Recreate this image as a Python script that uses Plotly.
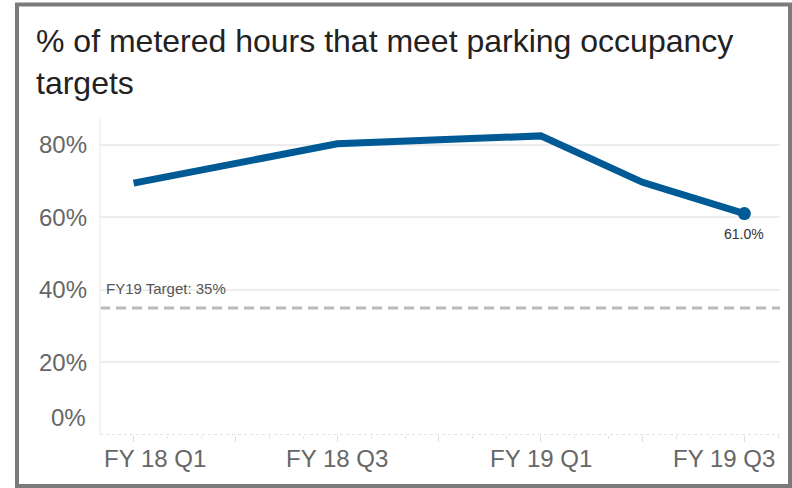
import plotly.graph_objects as go

quarters = ["FY 18 Q1", "FY 18 Q2", "FY 18 Q3", "FY 18 Q4", "FY 19 Q1", "FY 19 Q2", "FY 19 Q3"]
occupancy_pct = [69.4, 74.8, 80.2, 81.3, 82.4, 69.6, 61.0]
y_ticks = [0, 20, 40, 60, 80]
labelled_quarters = ["FY 18 Q1", "FY 18 Q3", "FY 19 Q1", "FY 19 Q3"]
target_pct = 35
target_label = "FY19 Target: 35%"
title_text = "% of metered hours that meet parking occupancy<br>targets"

FONT = "Liberation Sans, Arial, sans-serif"
W, H = 792, 488
L, R, T, B = 100, 12, 117, 53
PW, PH = W - L - R, H - T - B

def px_x(px):
    return (px - L) / PW

def px_y(py):
    return (H - B - py) / PH

xs = list(range(len(quarters)))
last = len(quarters) - 1

fig = go.Figure()
fig.add_trace(go.Scatter(
    x=xs, y=occupancy_pct, mode="lines",
    line=dict(color="#005a96", width=7, shape="linear"),
    hoverinfo="skip", showlegend=False,
))
fig.add_trace(go.Scatter(
    x=[xs[last]], y=[occupancy_pct[last]], mode="markers",
    marker=dict(color="#005a96", size=13),
    hoverinfo="skip", showlegend=False,
))

fig.update_layout(
    width=W, height=H,
    margin=dict(l=L, r=R, t=T, b=B),
    paper_bgcolor="white", plot_bgcolor="white",
    font=dict(family=FONT),
    xaxis=dict(
        range=[-0.33, 6.35], showgrid=False, zeroline=False,
        tickvals=xs, ticktext=[""] * len(xs),
        ticks="outside", ticklen=6, tickcolor="#dddddd", tickwidth=1,
        minor=dict(dtick=1/3, tick0=0, ticks="outside", ticklen=3, tickcolor="#e4e4e4"),
        showline=False,
    ),
    yaxis=dict(
        range=[0, 87.6], tickvals=y_ticks,
        ticktext=["" if v == 0 else f"{v}%" for v in y_ticks],
        tickfont=dict(family=FONT, size=24, color="#666666"),
        showgrid=True, gridcolor="#ededed", gridwidth=1.5,
        zeroline=False, ticks="", ticklabelstandoff=12, showline=False,
    ),
)

shapes = []
shapes.append(dict(type="line", xref="paper", yref="y", x0=0, x1=1, y0=target_pct, y1=target_pct,
                   line=dict(color="#bababa", width=3, dash="10px,6px")))
shapes.append(dict(type="line", xref="paper", yref="paper", x0=0, x1=0, y0=0, y1=1,
                   line=dict(color="#f0f0f0", width=1.5)))
shapes.append(dict(type="line", xref="paper", yref="y", x0=0, x1=1, y0=0, y1=0,
                   line=dict(color="#d8d8d8", width=1.5, dash="dot")))
shapes.append(dict(type="rect", xref="paper", yref="paper",
                   x0=px_x(17), x1=px_x(790), y0=px_y(486), y1=px_y(4.5),
                   line=dict(color="#7b7b7d", width=4), fillcolor="rgba(0,0,0,0)", layer="above"))
fig.update_layout(shapes=shapes)

ann = []
ann.append(dict(text=title_text, xref="paper", yref="paper", x=px_x(34), y=px_y(21),
                xanchor="left", yanchor="top", align="left", showarrow=False,
                font=dict(family=FONT, size=32, color="#222222")))
ann.append(dict(text=target_label, xref="paper", yref="y", x=px_x(104), y=target_pct,
                xanchor="left", yanchor="bottom", yshift=9, showarrow=False,
                font=dict(family=FONT, size=15, color="#555555")))
ann.append(dict(text=f"{occupancy_pct[last]:.1f}%", xref="x", yref="y", x=xs[last], y=occupancy_pct[last],
                xanchor="center", yanchor="top", yshift=-10, showarrow=False,
                font=dict(family=FONT, size=14, color="#333333")))
ann.append(dict(text="0%", xref="paper", yref="paper", x=px_x(88), y=px_y(417),
                xanchor="right", yanchor="middle", showarrow=False,
                font=dict(family=FONT, size=24, color="#666666")))
for lab in labelled_quarters:
    i = quarters.index(lab)
    if i == 0:
        xa, xpos, xref = "left", px_x(102), "paper"
    elif i == last:
        xa, xpos, xref = "right", px_x(777), "paper"
    else:
        xa, xpos, xref = "center", i, "x"
    ann.append(dict(text=lab, xref=xref, yref="paper", x=xpos, y=px_y(458),
                    xanchor=xa, yanchor="middle", showarrow=False,
                    font=dict(family=FONT, size=24, color="#666666")))
fig.update_layout(annotations=ann)

fig.write_html("out.html", config={"displayModeBar": False},
               post_script="document.body.style.margin='0px';document.body.style.padding='0px';")
